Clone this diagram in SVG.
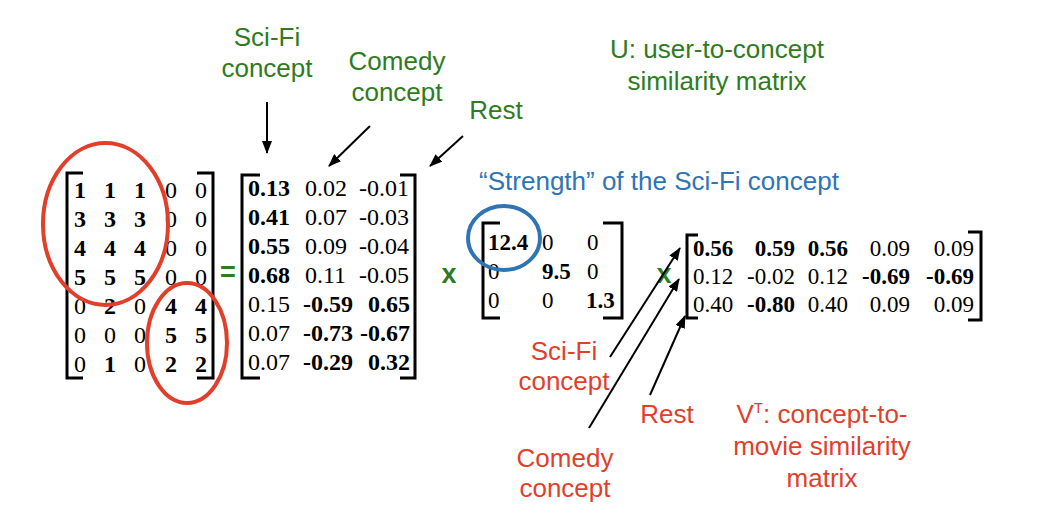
<svg xmlns="http://www.w3.org/2000/svg" width="1038" height="532" viewBox="0 0 1038 532">
<defs>
<marker id="ah" markerUnits="userSpaceOnUse" markerWidth="13" markerHeight="10" refX="12" refY="5" orient="auto">
<path d="M0,0 L13,5 L0,10 Z" fill="#000"/>
</marker>
<style>
.m{font-family:"Liberation Serif","Times New Roman",serif;font-size:23px;fill:#000}
.m24{font-size:24px}
.b{font-weight:bold}
.br{fill:none;stroke:#000;stroke-width:3}
.lbl{font-family:"Liberation Sans",Arial,sans-serif;font-size:26px;text-anchor:middle}
.g{fill:#2E7B22}
.r{fill:#E23F2B}
.bl{fill:#2F74B5}
.op{font-family:"Liberation Sans",Arial,sans-serif;font-size:27px;font-weight:bold;fill:#2E7B22;text-anchor:middle}
.arr{stroke:#000;stroke-width:2;fill:none;marker-end:url(#ah)}
.ell{fill:none;stroke:#E23F2B;stroke-width:4}
</style>
</defs>
<rect width="1038" height="532" fill="#fff"/>

<g id="matrixA">
<path class="br" d="M83 173 H67 V378 H83"/>
<path class="br" d="M197 173 H213 V378 H197"/>
<g class="m m24" text-anchor="middle">
<text y="198"><tspan class="b" x="80">1</tspan><tspan class="b" x="110">1</tspan><tspan class="b" x="140">1</tspan><tspan x="171">0</tspan><tspan x="201">0</tspan></text>
<text y="227"><tspan class="b" x="80">3</tspan><tspan class="b" x="110">3</tspan><tspan class="b" x="140">3</tspan><tspan x="171">0</tspan><tspan x="201">0</tspan></text>
<text y="256"><tspan class="b" x="80">4</tspan><tspan class="b" x="110">4</tspan><tspan class="b" x="140">4</tspan><tspan x="171">0</tspan><tspan x="201">0</tspan></text>
<text y="285"><tspan class="b" x="80">5</tspan><tspan class="b" x="110">5</tspan><tspan class="b" x="140">5</tspan><tspan x="171">0</tspan><tspan x="201">0</tspan></text>
<text y="314"><tspan x="80">0</tspan><tspan class="b" x="110">2</tspan><tspan x="140">0</tspan><tspan class="b" x="171">4</tspan><tspan class="b" x="201">4</tspan></text>
<text y="343"><tspan x="80">0</tspan><tspan x="110">0</tspan><tspan x="140">0</tspan><tspan class="b" x="171">5</tspan><tspan class="b" x="201">5</tspan></text>
<text y="372"><tspan x="80">0</tspan><tspan class="b" x="110">1</tspan><tspan x="140">0</tspan><tspan class="b" x="171">2</tspan><tspan class="b" x="201">2</tspan></text>
</g>
</g>

<g id="ellipseSciFi"><ellipse class="ell" cx="105.5" cy="224" rx="62.5" ry="81"/></g>
<g id="ellipseComedy"><ellipse class="ell" cx="187" cy="343" rx="40" ry="60"/></g>

<g id="equals"><text class="op" x="228" y="281">=</text></g>

<g id="matrixU">
<path class="br" d="M260 175 H242 V378 H260"/>
<path class="br" d="M400 175 H415 V378 H400"/>
<g class="m m24">
<text y="196"><tspan class="b" x="248">0.13</tspan><tspan x="305">0.02</tspan><tspan x="409" text-anchor="end">-0.01</tspan></text>
<text y="225"><tspan class="b" x="248">0.41</tspan><tspan x="305">0.07</tspan><tspan x="409" text-anchor="end">-0.03</tspan></text>
<text y="254"><tspan class="b" x="248">0.55</tspan><tspan x="305">0.09</tspan><tspan x="409" text-anchor="end">-0.04</tspan></text>
<text y="283"><tspan class="b" x="248">0.68</tspan><tspan x="305">0.11</tspan><tspan x="409" text-anchor="end">-0.05</tspan></text>
<text y="312"><tspan x="248">0.15</tspan><tspan class="b" x="303">-0.59</tspan><tspan class="b" x="410" text-anchor="end">0.65</tspan></text>
<text y="341"><tspan x="248">0.07</tspan><tspan class="b" x="303">-0.73</tspan><tspan class="b" x="410" text-anchor="end">-0.67</tspan></text>
<text y="370"><tspan x="248">0.07</tspan><tspan class="b" x="303">-0.29</tspan><tspan class="b" x="410" text-anchor="end">0.32</tspan></text>
</g>
</g>

<g id="times1"><text class="op" x="449" y="283">x</text></g>

<g id="matrixSigma">
<path class="br" d="M500 223 H483 V318 H500"/>
<path class="br" d="M603 223 H622 V318 H603"/>
<g class="m">
<text y="250"><tspan class="b" x="488">12.4</tspan><tspan x="542">0</tspan><tspan x="587">0</tspan></text>
<text y="279"><tspan x="488">0</tspan><tspan class="b" x="542">9.5</tspan><tspan x="587">0</tspan></text>
<text y="308"><tspan x="488">0</tspan><tspan x="542">0</tspan><tspan class="b" x="586">1.3</tspan></text>
</g>
</g>

<g id="circleStrength"><ellipse cx="504" cy="238" rx="36" ry="32" fill="none" stroke="#2F74B5" stroke-width="4"/></g>

<g id="times2"><text class="op" x="664" y="283">x</text></g>

<g id="matrixVT">
<path class="br" d="M698 235 H687 V318 H698"/>
<path class="br" d="M968 232 H981 V320 H968"/>
<g class="m">
<text y="256"><tspan class="b" x="693">0.56</tspan><tspan class="b" x="795" text-anchor="end">0.59</tspan><tspan class="b" x="848" text-anchor="end">0.56</tspan><tspan x="910" text-anchor="end">0.09</tspan><tspan x="974" text-anchor="end">0.09</tspan></text>
<text y="284"><tspan x="693">0.12</tspan><tspan x="795" text-anchor="end">-0.02</tspan><tspan x="848" text-anchor="end">0.12</tspan><tspan class="b" x="910" text-anchor="end">-0.69</tspan><tspan class="b" x="974" text-anchor="end">-0.69</tspan></text>
<text y="312"><tspan x="693">0.40</tspan><tspan class="b" x="795" text-anchor="end">-0.80</tspan><tspan x="848" text-anchor="end">0.40</tspan><tspan x="910" text-anchor="end">0.09</tspan><tspan x="974" text-anchor="end">0.09</tspan></text>
</g>
</g>

<g id="labelSciFiTop"><text class="lbl g" x="267" y="46">Sci-Fi</text><text class="lbl g" x="267" y="77">concept</text></g>
<g id="labelComedyTop"><text class="lbl g" x="397" y="70">Comedy</text><text class="lbl g" x="397" y="101">concept</text></g>
<g id="labelRestTop"><text class="lbl g" x="496" y="119">Rest</text></g>
<g id="labelU"><text class="lbl g" x="717" y="58">U: user-to-concept</text><text class="lbl g" x="717" y="90">similarity matrix</text></g>
<g id="labelStrength"><text class="lbl bl" x="659" y="190">“Strength” of the Sci-Fi concept</text></g>
<g id="labelSciFiBottom"><text class="lbl r" x="564" y="360">Sci-Fi</text><text class="lbl r" x="564" y="390">concept</text></g>
<g id="labelRestBottom"><text class="lbl r" x="667" y="423">Rest</text></g>
<g id="labelComedyBottom"><text class="lbl r" x="565" y="467">Comedy</text><text class="lbl r" x="565" y="497">concept</text></g>
<g id="labelVT"><text class="lbl r" x="822" y="423">V<tspan font-size="15" dy="-10">T</tspan><tspan dy="10">: concept-to-</tspan></text><text class="lbl r" x="822" y="455">movie similarity</text><text class="lbl r" x="822" y="487">matrix</text></g>

<g id="connectors">
<line class="arr" x1="267" y1="102" x2="267" y2="153"/>
<line class="arr" x1="370" y1="126" x2="329" y2="166"/>
<line class="arr" x1="463" y1="136" x2="430" y2="166"/>
<line class="arr" x1="610" y1="357" x2="680" y2="248"/>
<line class="arr" x1="589" y1="428" x2="679" y2="279"/>
<line class="arr" x1="650" y1="395" x2="685" y2="316"/>
</g>
</svg>
